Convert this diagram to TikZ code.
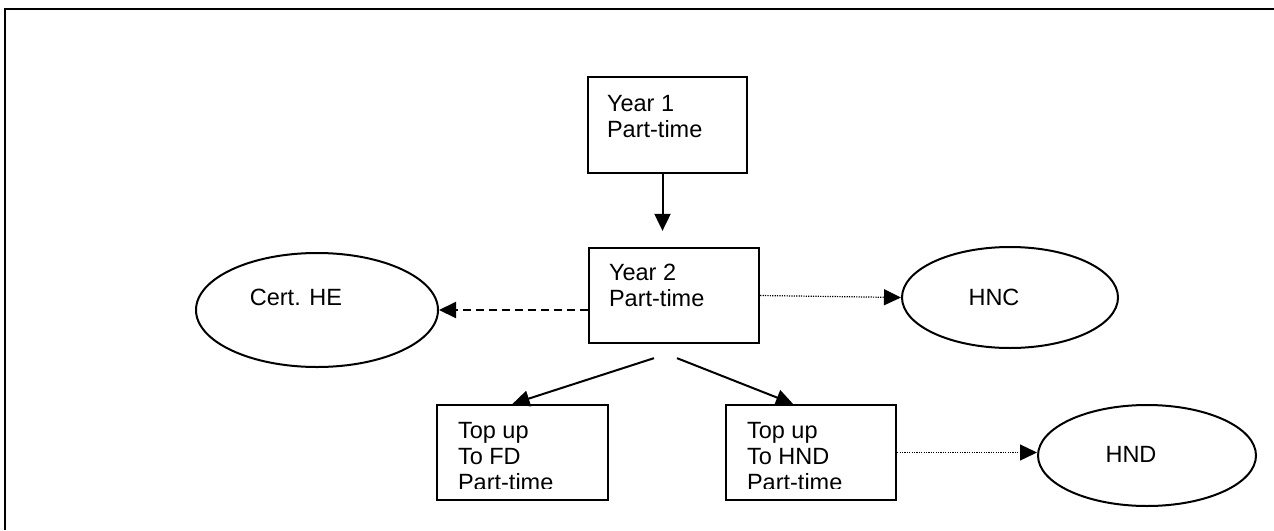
\documentclass[tikz,border=0pt]{standalone}
\usepackage{fontspec}
\setmainfont{Liberation Sans}
\usetikzlibrary{shapes,arrows.meta,positioning,calc}

\begin{document}
\begin{tikzpicture}[x=1pt, y=-1pt,
        yearbox/.style={rectangle, draw, line width=2.3pt, inner sep=0pt},
        outcome/.style={ellipse, draw, line width=2pt, inner sep=0pt,
                        minimum width=216pt, minimum height=101pt},
        txt/.style={font=\fontsize{23.5}{26}\selectfont, align=left, inner sep=0pt},
        line/.style={line width=2pt, -{Triangle[length=17pt,width=16pt]}},
        dotline/.style={line, line width=1.2pt, dash pattern=on 1.2pt off 1.2pt}
    ]
        \useasboundingbox (0,0) rectangle (1274,530);
        % Frame
        \draw[line width=2.5pt] (5,530) -- (5,9) -- (1274,9);

        % Year boxes
        \node[yearbox, minimum width=159pt, minimum height=96pt] (Y1) at (667.5,125) {};
        \node[txt, anchor=north west] (Y1text) at ($(Y1.north west)+(20,19)$) {Year 1\\Part-time};
        \node[yearbox, minimum width=170pt, minimum height=95pt] (Y2) at (674,295.5) {};
        \node[txt, anchor=north west] (Y2text) at ($(Y2.north west)+(21,17)$) {Year 2\\Part-time};

        % Top up boxes (text cut at the bottom)
        \node[yearbox, minimum width=171pt, minimum height=95pt] (FD) at (522.5,452.5) {};
        \begin{scope}
            \clip (FD.north west) rectangle ($(FD.south east)+(0,-13)$);
            \node[txt, anchor=north west] (FDtext) at ($(FD.north west)+(22,18)$) {Top up\\To FD\\Part-time};
        \end{scope}
        \node[yearbox, minimum width=170pt, minimum height=95pt] (HNDbox) at (811,452.5) {};
        \begin{scope}
            \clip (HNDbox.north west) rectangle ($(HNDbox.south east)+(0,-13)$);
            \node[txt, anchor=north west] (HNDtext) at ($(HNDbox.north west)+(22,18)$) {Top up\\To HND\\Part-time};
        \end{scope}

        % Awards
        \node[outcome, minimum width=242pt, minimum height=114pt,
              label={[txt, xshift=-21pt, yshift=13pt]center:Cert. HE}] (Cert) at (317,310) {};
        \node[outcome, label={[txt, xshift=-16pt]center:HNC}] (HNC) at (1010,297.5) {};
        \node[outcome, minimum width=218pt,
              label={[txt, xshift=-16pt, yshift=1pt]center:HND}] (HND) at (1147,455.5) {};

        % Arrows
        \draw[line, shorten >=16pt] ($(Y1.south)+(-5,0)$) -- ($(Y1.south |- Y2.north)+(-5,0)$);
        \draw[line, dash pattern=on 8pt off 5pt] (Cert.east -| Y2.west) -- (Cert.east);
        \draw[dotline] (Y2.east) -- (HNC.west);
        \coordinate (forkL) at ($(Y2.south)+(-20,14)$);
        \coordinate (forkR) at ($(Y2.south)+(3,14)$);
        \draw[line] (forkL) -- ($(FD.north)+(-10,0)$);
        \draw[line] (forkR) -- ($(HNDbox.north)+(-18,0)$);
        \draw[dotline] (HNDbox.east) -- (HNDbox.east -| HND.west);
    \end{tikzpicture}
\end{document}
